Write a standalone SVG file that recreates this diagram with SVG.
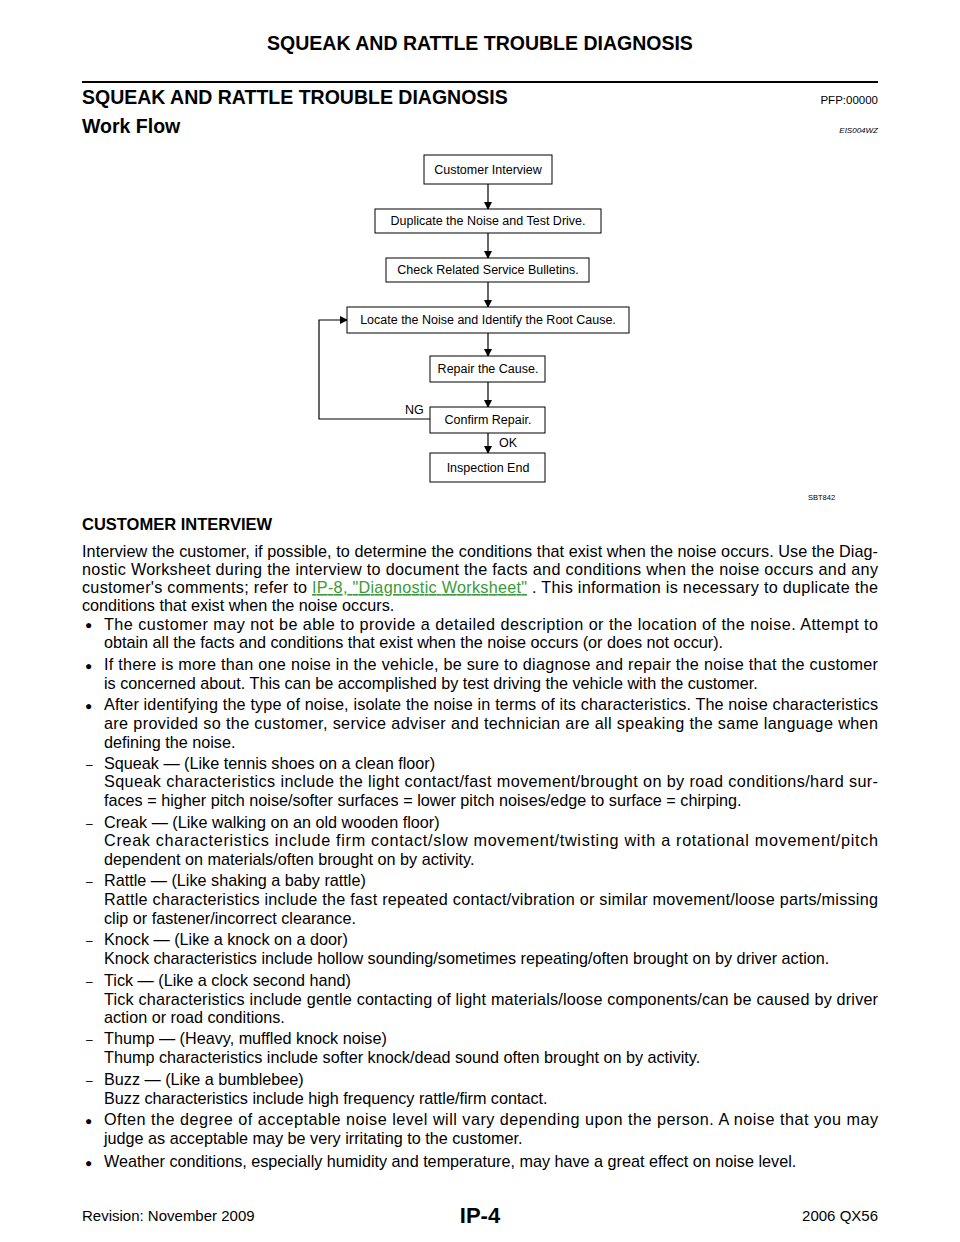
<svg xmlns="http://www.w3.org/2000/svg" width="960" height="1242" viewBox="0 0 960 1242">
<style>
text{font-family:"Liberation Sans",Arial,sans-serif;fill:#000}
.b{font-size:16.2px}
.n{font-size:12.5px}
.box{fill:#fff;stroke:#000;stroke-width:1}
.c{stroke:#000;stroke-width:1.2;fill:none}
</style>
<defs><marker id="ah" markerWidth="8" markerHeight="8" refX="7" refY="4" orient="auto" markerUnits="userSpaceOnUse"><path d="M0,0L8,4L0,8z" fill="#000"/></marker></defs>
<rect width="960" height="1242" fill="#fff"/>
<text x="480" y="50" text-anchor="middle" font-size="19.5" font-weight="bold">SQUEAK AND RATTLE TROUBLE DIAGNOSIS</text>
<line x1="82" y1="82" x2="878" y2="82" stroke="#000" stroke-width="2"/>
<text x="82" y="104" font-size="19.5" font-weight="bold">SQUEAK AND RATTLE TROUBLE DIAGNOSIS</text>
<text x="878" y="104" text-anchor="end" font-size="11.5">PFP:00000</text>
<text x="878" y="133" text-anchor="end" font-size="8" font-style="italic">EIS004WZ</text>
<text x="82" y="133" font-size="19.5" font-weight="bold">Work Flow</text>
<g id="connectors">
<line class="c" x1="488" y1="184" x2="488" y2="209" marker-end="url(#ah)"/>
<line class="c" x1="488" y1="233" x2="488" y2="258" marker-end="url(#ah)"/>
<line class="c" x1="488" y1="282" x2="488" y2="307" marker-end="url(#ah)"/>
<line class="c" x1="488" y1="333" x2="488" y2="356" marker-end="url(#ah)"/>
<line class="c" x1="488" y1="382" x2="488" y2="407" marker-end="url(#ah)"/>
<line class="c" x1="488" y1="433" x2="488" y2="453" marker-end="url(#ah)"/>
<polyline class="c" points="430,419 319,419 319,320 347,320" marker-end="url(#ah)"/>
<text x="405" y="414" class="n">NG</text>
<text x="499" y="447" class="n">OK</text>
</g>
<g id="n1"><rect class="box" x="424" y="155" width="128" height="29"/><text class="n" x="488" y="174" text-anchor="middle">Customer  Interview</text></g>
<g id="n2"><rect class="box" x="375" y="209" width="226" height="24"/><text class="n" x="488" y="225" text-anchor="middle">Duplicate  the  Noise  and  Test  Drive.</text></g>
<g id="n3"><rect class="box" x="386" y="258" width="203" height="24"/><text class="n" x="488" y="274" text-anchor="middle">Check  Related  Service  Bulletins.</text></g>
<g id="n4"><rect class="box" x="347" y="307" width="282" height="26"/><text class="n" x="488" y="324" text-anchor="middle">Locate  the  Noise  and  Identify  the  Root  Cause.</text></g>
<g id="n5"><rect class="box" x="430" y="356" width="115" height="26"/><text class="n" x="488" y="373" text-anchor="middle">Repair  the  Cause.</text></g>
<g id="n6"><rect class="box" x="430" y="407" width="115" height="26"/><text class="n" x="488" y="424" text-anchor="middle">Confirm  Repair.</text></g>
<g id="n7"><rect class="box" x="430" y="453" width="115" height="29"/><text class="n" x="488" y="472" text-anchor="middle">Inspection  End</text></g>
<text x="808" y="500" font-size="7.5">SBT842</text>
<text x="82" y="530" font-size="16.5" font-weight="bold">CUSTOMER INTERVIEW</text>
<g class="b">
<text x="82" y="557" textLength="796" lengthAdjust="spacing">Interview the customer, if possible, to determine the conditions that exist when the noise occurs. Use the Diag-</text>
<text x="82" y="575" textLength="796" lengthAdjust="spacing">nostic Worksheet during the interview to document the facts and conditions when the noise occurs and any</text>
<text x="82" y="593" textLength="796" lengthAdjust="spacing">customer's comments; refer to <tspan fill="#3a9a3a" text-decoration="underline">IP-8, "Diagnostic Worksheet"</tspan> . This information is necessary to duplicate the</text>
<text x="82" y="611">conditions that exist when the noise occurs.</text>
<g font-size="12"><text x="85" y="629">●</text><text x="85" y="670">●</text><text x="85" y="710">●</text><text x="85" y="1125">●</text><text x="85" y="1167">●</text></g>
<g font-size="12"><text x="86" y="769">–</text><text x="86" y="828">–</text><text x="86" y="886">–</text><text x="86" y="945">–</text><text x="86" y="986">–</text><text x="86" y="1044">–</text><text x="86" y="1085">–</text></g>
<text x="104" y="630" textLength="774" lengthAdjust="spacing">The customer may not be able to provide a detailed description or the location of the noise. Attempt to</text>
<text x="104" y="648">obtain all the facts and conditions that exist when the noise occurs (or does not occur).</text>
<text x="104" y="670" textLength="774" lengthAdjust="spacing">If there is more than one noise in the vehicle, be sure to diagnose and repair the noise that the customer</text>
<text x="104" y="689">is concerned about. This can be accomplished by test driving the vehicle with the customer.</text>
<text x="104" y="710" textLength="774" lengthAdjust="spacing">After identifying the type of noise, isolate the noise in terms of its characteristics. The noise characteristics</text>
<text x="104" y="729" textLength="774" lengthAdjust="spacing">are provided so the customer, service adviser and technician are all speaking the same language when</text>
<text x="104" y="748">defining the noise.</text>
<text x="104" y="769">Squeak — (Like tennis shoes on a clean floor)</text>
<text x="104" y="787" textLength="774" lengthAdjust="spacing">Squeak characteristics include the light contact/fast movement/brought on by road conditions/hard sur-</text>
<text x="104" y="806">faces = higher pitch noise/softer surfaces = lower pitch noises/edge to surface = chirping.</text>
<text x="104" y="828">Creak — (Like walking on an old wooden floor)</text>
<text x="104" y="846" textLength="774" lengthAdjust="spacing">Creak characteristics include firm contact/slow movement/twisting with a rotational movement/pitch</text>
<text x="104" y="865">dependent on materials/often brought on by activity.</text>
<text x="104" y="886">Rattle — (Like shaking a baby rattle)</text>
<text x="104" y="905" textLength="774" lengthAdjust="spacing">Rattle characteristics include the fast repeated contact/vibration or similar movement/loose parts/missing</text>
<text x="104" y="924">clip or fastener/incorrect clearance.</text>
<text x="104" y="945">Knock — (Like a knock on a door)</text>
<text x="104" y="964">Knock characteristics include hollow sounding/sometimes repeating/often brought on by driver action.</text>
<text x="104" y="986">Tick — (Like a clock second hand)</text>
<text x="104" y="1005" textLength="774" lengthAdjust="spacing">Tick characteristics include gentle contacting of light materials/loose components/can be caused by driver</text>
<text x="104" y="1023">action or road conditions.</text>
<text x="104" y="1044">Thump — (Heavy, muffled knock noise)</text>
<text x="104" y="1063">Thump characteristics include softer knock/dead sound often brought on by activity.</text>
<text x="104" y="1085">Buzz — (Like a bumblebee)</text>
<text x="104" y="1104">Buzz characteristics include high frequency rattle/firm contact.</text>
<text x="104" y="1125" textLength="774" lengthAdjust="spacing">Often the degree of acceptable noise level will vary depending upon the person. A noise that you may</text>
<text x="104" y="1144">judge as acceptable may be very irritating to the customer.</text>
<text x="104" y="1167">Weather conditions, especially humidity and temperature, may have a great effect on noise level.</text>
</g>
<text x="82" y="1221" font-size="15">Revision: November 2009</text>
<text x="480" y="1223" text-anchor="middle" font-size="22" font-weight="bold">IP-4</text>
<text x="878" y="1221" text-anchor="end" font-size="15">2006 QX56</text>
</svg>
